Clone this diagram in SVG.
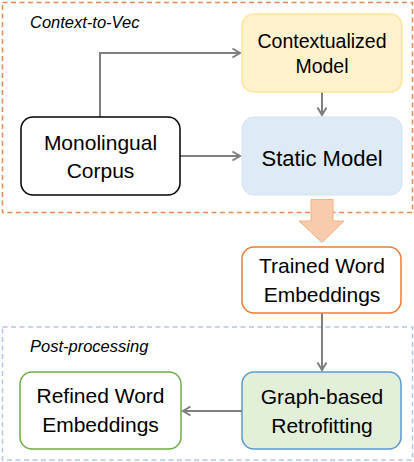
<svg xmlns="http://www.w3.org/2000/svg" width="414" height="462" viewBox="0 0 414 462">
<defs>
<marker id="ah" markerWidth="12" markerHeight="12" refX="9" refY="6" orient="auto" markerUnits="userSpaceOnUse">
<path d="M1.5,1.5 L9,6 L1.5,10.5" fill="none" stroke="#7F7F7F" stroke-width="2"/>
</marker>
<style>
text{font-family:"Liberation Sans",Arial,sans-serif;fill:#000;text-anchor:middle}
.lbl{font-style:italic;font-size:16.5px;text-anchor:start}
.n{font-size:21px}
.c{fill:none;stroke:#7F7F7F;stroke-width:2;marker-end:url(#ah)}
</style>
</defs>
<g id="group-context-to-vec">
<rect x="2.5" y="2.5" width="410" height="210" fill="none" stroke="#F08A4B" stroke-width="1.5" stroke-dasharray="5,3.5"/>
<text class="lbl" x="30" y="28">Context-to-Vec</text>
</g>
<g id="group-post-processing">
<rect x="2.5" y="327" width="410" height="133" fill="none" stroke="#B4C7E7" stroke-width="1.5" stroke-dasharray="5,3.5"/>
<text class="lbl" x="30" y="352">Post-processing</text>
</g>
<g id="connectors">
<path class="c" d="M100,117 V53 H240"/>
<path class="c" d="M180,156 H240"/>
<path class="c" d="M322,92 V115"/>
<path class="c" d="M322,313 V370"/>
<path class="c" d="M242,411 H183"/>
<path id="block-arrow" d="M311,199.5 H333 V221 H344 L322,242.5 L299,221 H311 Z" fill="#F8CBAD" stroke="#F4B183" stroke-width="1"/>
</g>
<g id="node-contextualized">
<rect x="242" y="14" width="160" height="78" rx="12" fill="#FFF2CC" stroke="#FFE699" stroke-width="1.5"/>
<text class="n" x="322" y="48" style="font-size:19.5px">Contextualized</text>
<text class="n" x="322" y="73" style="font-size:19.5px">Model</text>
</g>
<g id="node-monolingual">
<rect x="21" y="117" width="159" height="78" rx="12" fill="#FFFFFF" stroke="#000" stroke-width="1.5"/>
<text class="n" x="100.5" y="150">Monolingual</text>
<text class="n" x="100.5" y="178">Corpus</text>
</g>
<g id="node-static">
<rect x="242" y="117" width="160" height="78" rx="12" fill="#DEEBF7" stroke="#D2E2F3" stroke-width="1"/>
<text class="n" x="322" y="166" style="font-size:22px">Static Model</text>
</g>
<g id="node-trained">
<rect x="242" y="247" width="159" height="66" rx="12" fill="#FFFFFF" stroke="#ED7D31" stroke-width="1.5"/>
<text class="n" x="322" y="273">Trained Word</text>
<text class="n" x="322" y="302">Embeddings</text>
</g>
<g id="node-refined">
<rect x="20" y="372" width="161" height="77" rx="12" fill="#FFFFFF" stroke="#70AD47" stroke-width="1.5"/>
<text class="n" x="100.5" y="403">Refined Word</text>
<text class="n" x="100.5" y="432">Embeddings</text>
</g>
<g id="node-graph">
<rect x="242" y="372" width="159" height="77" rx="12" fill="#E2F0D9" stroke="#5B9BD5" stroke-width="1.5"/>
<text class="n" x="322" y="404">Graph-based</text>
<text class="n" x="322" y="433">Retrofitting</text>
</g>
</svg>
